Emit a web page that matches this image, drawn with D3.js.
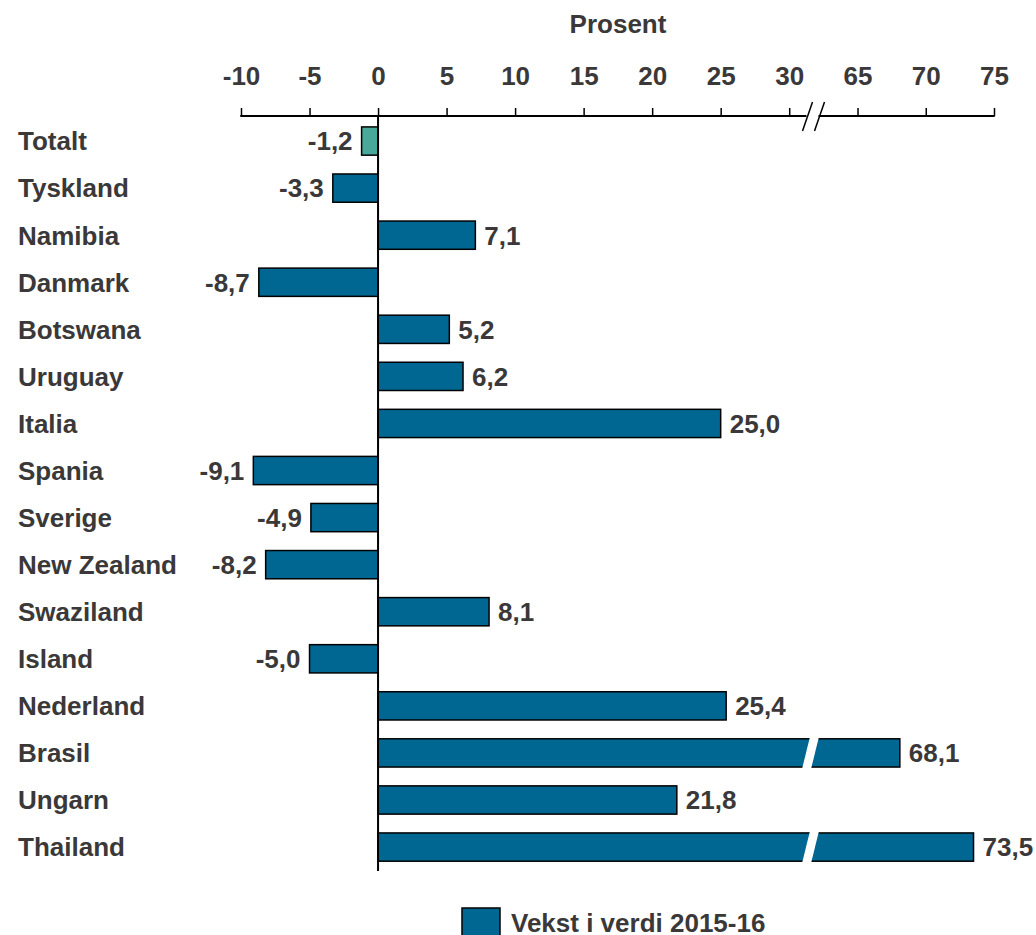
<!DOCTYPE html>
<html>
<head>
<meta charset="utf-8">
<script src="https://cdn.jsdelivr.net/npm/d3@7"></script>
<style>
  body { margin: 0; background: #fff; }
  text { font-family: "Liberation Sans", Arial, sans-serif; font-weight: bold; fill: #3a3838; }
</style>
</head>
<body>
<div id="chart"></div>
<script>
var w = 1036;
var h = 935;

// data
var countries = ["Totalt", "Tyskland", "Namibia", "Danmark", "Botswana", "Uruguay", "Italia", "Spania",
  "Sverige", "New Zealand", "Swaziland", "Island", "Nederland", "Brasil", "Ungarn", "Thailand"];
var growth = [-1.2, -3.3, 7.1, -8.7, 5.2, 6.2, 25.0, -9.1, -4.9, -8.2, 8.1, -5.0, 25.4, 68.1, 21.8, 73.5];
var tickVals = [-10, -5, 0, 5, 10, 15, 20, 25, 30, 65, 70, 75];
var breakFrom = 31.7, breakTo = 61.7;
var legendLabel = "Vekst i verdi 2015-16";
var axisTitle = "Prosent";

var barColor = "#006792";
var totalColor = "#48a99a";
var fs = "26px";

var svg = d3.select("#chart")
  .append("svg")
  .attr("width", w)
  .attr("height", h);

// broken x scale: the range 31.7..61.7 collapses to one point
var x = d3.scaleLinear()
  .domain([-10, breakFrom, breakTo, 75])
  .range([241, 812.5, 812.5, 994]);
var xBreak = x(breakFrom);
var axisY = 116;

var y = d3.scaleBand()
  .domain(countries)
  .range([117.5, 870.6])
  .paddingInner(0.4)
  .paddingOuter(0.2);

var rows = countries.map(function(c, i) { return { name: c, v: growth[i] }; });

// bars
svg.selectAll("rect.bar")
  .data(rows)
  .enter()
  .append("rect")
  .attr("class", "bar")
  .attr("x", function(d) { return x(Math.min(0, d.v)); })
  .attr("y", function(d) { return y(d.name); })
  .attr("width", function(d) { return Math.abs(x(d.v) - x(0)); })
  .attr("height", y.bandwidth())
  .attr("fill", function(d, i) { return i == 0 ? totalColor : barColor; })
  .attr("stroke", "#000")
  .attr("stroke-width", 1.5);

// break marks on long bars
var longRows = rows.filter(function(d) { return d.v > breakTo; });
svg.selectAll("polygon.gap")
  .data(longRows)
  .enter()
  .append("polygon")
  .attr("class", "gap")
  .attr("points", function(d) {
    var t = y(d.name) - 8, b = y(d.name) + y.bandwidth() + 8;
    var xs = xBreak;
    return [[xs - 12, b], [xs - 1, t], [xs + 8, t], [xs - 3, b]].map(function(p) { return p.join(","); }).join(" ");
  })
  .attr("fill", "#fff");

// zero line
svg.append("line")
  .attr("x1", x(0)).attr("x2", x(0))
  .attr("y1", axisY).attr("y2", 871)
  .attr("stroke", "#000")
  .attr("stroke-width", 2);

// axis
var axis = svg.append("g")
  .attr("transform", "translate(0," + axisY + ")")
  .call(d3.axisTop(x).tickValues(tickVals).tickSize(8).tickPadding(23)
    .tickFormat(function(d) { return String(d); }));
axis.select(".domain").remove();
axis.selectAll(".tick line").attr("stroke", "#000").attr("stroke-width", 1.5);
axis.selectAll(".tick text")
  .style("font-size", fs)
  .attr("font-family", null)
  .attr("fill", null);

svg.append("line")
  .attr("x1", x(-10) - 0.75).attr("x2", xBreak - 6)
  .attr("y1", axisY).attr("y2", axisY)
  .attr("stroke", "#000").attr("stroke-width", 2);
svg.append("line")
  .attr("x1", xBreak + 6).attr("x2", x(75) + 0.75)
  .attr("y1", axisY).attr("y2", axisY)
  .attr("stroke", "#000").attr("stroke-width", 2);
[-10, 2].forEach(function(off) {
  svg.append("line")
    .attr("x1", xBreak + off).attr("y1", axisY + 15)
    .attr("x2", xBreak + off + 10).attr("y2", axisY - 14)
    .attr("stroke", "#000").attr("stroke-width", 1.5);
});

svg.append("text")
  .attr("x", 618)
  .attr("y", 33)
  .attr("text-anchor", "middle")
  .style("font-size", fs)
  .text(axisTitle);

// category labels
svg.selectAll("text.cat")
  .data(rows)
  .enter()
  .append("text")
  .attr("class", "cat")
  .attr("x", 18)
  .attr("y", function(d) { return y(d.name) + y.bandwidth() / 2; })
  .attr("dy", "0.36em")
  .style("font-size", fs)
  .text(function(d) { return d.name; });

// value labels
svg.selectAll("text.val")
  .data(rows)
  .enter()
  .append("text")
  .attr("class", "val")
  .attr("x", function(d) { return d.v < 0 ? x(d.v) - 9 : x(d.v) + 9; })
  .attr("y", function(d) { return y(d.name) + y.bandwidth() / 2; })
  .attr("dy", "0.36em")
  .attr("text-anchor", function(d) { return d.v < 0 ? "end" : "start"; })
  .style("font-size", fs)
  .text(function(d) { return d3.format(".1f")(d.v).replace(".", ",").replace("\u2212", "-"); });

// legend
svg.append("rect")
  .attr("x", 462).attr("y", 908)
  .attr("width", 38).attr("height", 32)
  .attr("fill", barColor)
  .attr("stroke", "#000")
  .attr("stroke-width", 1.5);
svg.append("text")
  .attr("x", 511)
  .attr("y", 932)
  .style("font-size", fs)
  .text(legendLabel);
</script>
</body>
</html>
